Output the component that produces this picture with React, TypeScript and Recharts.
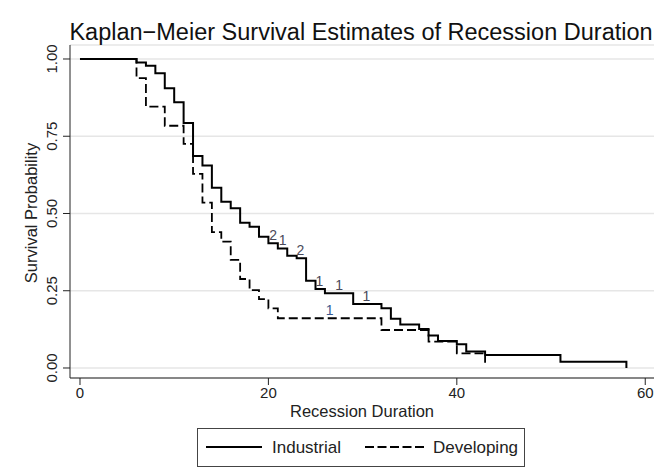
import React from 'react';
import { ComposedChart, Line, Scatter, XAxis, YAxis, CartesianGrid } from 'recharts';

// Kaplan-Meier step estimates
const industrialTime = [0, 6, 7, 8, 9, 10, 11, 12, 13, 14, 15, 16, 17, 18, 19, 20, 21, 22, 23, 24, 25, 26, 29, 32, 33, 34, 36, 37, 38, 40, 41, 43, 51, 58];
const industrialSurv = [1, 0.989, 0.978, 0.954, 0.905, 0.86, 0.793, 0.686, 0.655, 0.583, 0.538, 0.517, 0.47, 0.457, 0.425, 0.404, 0.387, 0.363, 0.355, 0.282, 0.256, 0.242, 0.207, 0.193, 0.159, 0.141, 0.126, 0.105, 0.087, 0.077, 0.053, 0.042, 0.02, 0];

const developingTime = [0, 6, 7, 9, 11, 12, 13, 14, 15, 16, 17, 18, 19, 20, 21, 32, 37, 40, 43];
const developingSurv = [1, 0.938, 0.846, 0.784, 0.725, 0.628, 0.535, 0.44, 0.409, 0.35, 0.288, 0.252, 0.223, 0.193, 0.161, 0.123, 0.085, 0.047, 0.017];

// censoring counts shown above the curves
const industrialCensorTime = [20.5, 21.5, 23.4, 25.4, 27.5, 30.4];
const industrialCensorLevel = [0.404, 0.387, 0.355, 0.256, 0.242, 0.207];
const industrialCensorCount = [2, 1, 2, 1, 1, 1];
const developingCensorTime = [26.5];
const developingCensorLevel = [0.161];
const developingCensorCount = [1];

const xTicks = [0, 20, 40, 60];
const yTicks = [0, 0.25, 0.5, 0.75, 1];

const industrial = industrialTime.map((t, i) => ({ t, s: industrialSurv[i] }));
const developing = developingTime.map((t, i) => ({ t, s: developingSurv[i] }));
const industrialCensor = industrialCensorTime.map((t, i) => ({ t, s: industrialCensorLevel[i], n: industrialCensorCount[i] }));
const developingCensor = developingCensorTime.map((t, i) => ({ t, s: developingCensorLevel[i], n: developingCensorCount[i] }));

const FONT = '"Liberation Sans", Arial, sans-serif';

const YTick = (props: any) => {
  const { y, payload } = props;
  return (
    <text transform={`translate(57,${y}) rotate(-90)`} textAnchor="middle" fontSize={15} fill="#222" fontFamily={FONT}>
      {payload.value.toFixed(2)}
    </text>
  );
};

const CountLabel = (color: string) => (props: any) => {
  const { cx, cy, payload } = props;
  return (
    <text x={cx} y={cy - 3} textAnchor="middle" fontSize={14} fill={color} fontFamily={FONT}>
      {payload.n}
    </text>
  );
};

export default function App() {
  return (
    <div style={{ position: 'absolute', left: 0, top: 0, width: 664, height: 473, background: '#fff', fontFamily: FONT }}>
      <ComposedChart width={664} height={473} margin={{ top: 45, right: 10, bottom: 0, left: 0 }}>
        <CartesianGrid vertical={false} stroke="#e6e6e6" strokeWidth={1.5} />
        <XAxis
          type="number"
          dataKey="t"
          domain={[-1.06, 60.93]}
          ticks={xTicks}
          height={95}
          tickSize={7}
          tickMargin={2}
          stroke="#222"
          tick={{ fontSize: 15, fill: '#222', fontFamily: FONT }}
          allowDataOverflow
        />
        <YAxis
          type="number"
          dataKey="s"
          domain={[-0.0324, 1.0453]}
          ticks={yTicks}
          width={70}
          tickSize={7}
          stroke="#222"
          tick={<YTick />}
          allowDataOverflow
        />
        <Line data={industrial} dataKey="s" type="stepAfter" stroke="#000" strokeWidth={2} dot={false} activeDot={false} isAnimationActive={false} />
        <Line data={developing} dataKey="s" type="stepAfter" stroke="#000" strokeWidth={1.8} strokeDasharray="9 4" dot={false} activeDot={false} isAnimationActive={false} />
        <Scatter data={industrialCensor} dataKey="s" shape={CountLabel('#4a4a5a')} isAnimationActive={false} />
        <Scatter data={developingCensor} dataKey="s" shape={CountLabel('#3a5a90')} isAnimationActive={false} />
      </ComposedChart>
      <svg width={664} height={473} style={{ position: 'absolute', left: 0, top: 0, pointerEvents: 'none' }}>
        <text x={361} y={40} textAnchor="middle" fontSize={23.5} fill="#111" fontFamily={FONT}>
          Kaplan−Meier Survival Estimates of Recession Duration
        </text>
        <text transform="translate(37,213) rotate(-90)" textAnchor="middle" fontSize={16.5} fill="#222" fontFamily={FONT}>
          Survival Probability
        </text>
        <text x={362} y={417} textAnchor="middle" fontSize={16.5} fill="#222" fontFamily={FONT}>
          Recession Duration
        </text>
        <rect x={197.5} y={428.5} width={327} height={38} fill="#fff" stroke="#444" strokeWidth={1} />
        <line x1={206} x2={262} y1={447} y2={447} stroke="#000" strokeWidth={2} />
        <text x={272} y={453} fontSize={17} fill="#222" fontFamily={FONT}>Industrial</text>
        <line x1={365} x2={425} y1={447} y2={447} stroke="#000" strokeWidth={1.8} strokeDasharray="9 3.5" />
        <text x={433} y={453} fontSize={17} fill="#222" fontFamily={FONT}>Developing</text>
      </svg>
    </div>
  );
}
